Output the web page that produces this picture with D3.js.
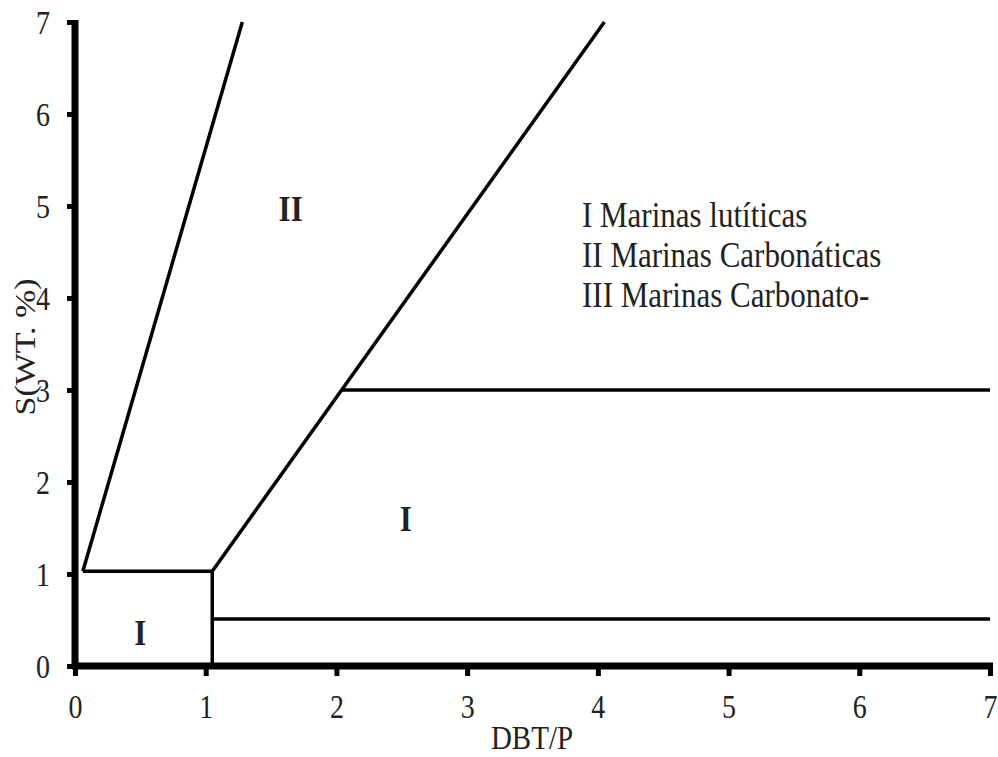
<!DOCTYPE html>
<html>
<head>
<meta charset="utf-8">
<script src="https://cdn.jsdelivr.net/npm/d3@7"></script>
<style>
	body { margin: 0; background: #fff; }
	svg text { font-family: "Liberation Serif", "Times New Roman", serif; fill: #222; }
</style>
</head>
<body>
<div id="chart"></div>
<script>
// tick values for both axes
var xTicks = [0, 1, 2, 3, 4, 5, 6, 7];
var yTicks = [0, 1, 2, 3, 4, 5, 6, 7];

// field boundaries, [DBT/P, S] pairs
var lineLeft = [[0.06, 1.03], [1.28, 7]];
var boxTop = [[0.06, 1.03], [1.05, 1.03]];
var boxSide = [[1.05, 0], [1.05, 1.03]];
var lineRight = [[1.05, 1.03], [4.05, 7]];
var limitUpper = [[2.04, 3.0], [7, 3.0]];
var limitLower = [[1.05, 0.51], [7, 0.51]];

// region labels
var regionNames = ["II", "I", "I"];
var regionX = [1.65, 2.53, 0.5];
var regionY = [4.97, 1.6, 0.36];

// legend text
var legendItems = ["I Marinas lutíticas", "II Marinas Carbonáticas", "III Marinas Carbonato-"];

var width = 998,
	height = 757;

// the original figure is a bit taller than wide in its lettering
var stretch = 1.17;

var svg = d3.select("#chart")
	.append("svg")
	.attr("width", width)
	.attr("height", height);

var x = d3.scaleLinear().domain([0, 7]).range([75, 990]);
var y = d3.scaleLinear().domain([0, 7]).range([666, 22]);

// x axis
var xAxis = svg.append("g")
	.attr("transform", "translate(0," + y(0) + ")")
	.call(d3.axisBottom(x).tickValues(xTicks).tickSize(10).tickSizeOuter(0).tickFormat(d3.format("d")));
xAxis.select(".domain").attr("stroke", "#000").attr("stroke-width", 7)
	.attr("d", "M" + (x(0) - 3) + ",0H" + (x(7) + 3));
xAxis.selectAll(".tick line").attr("stroke", "#000").attr("stroke-width", 5);
xAxis.selectAll(".tick text")
	.attr("x", null).attr("y", null).attr("dy", null)
	.attr("dominant-baseline", "central")
	.attr("transform", "translate(0,41) scale(1," + stretch + ")")
	.style("font-size", "28px");

// y axis
var yAxis = svg.append("g")
	.attr("transform", "translate(" + x(0) + ",0)")
	.call(d3.axisLeft(y).tickValues(yTicks).tickSize(8).tickSizeOuter(0).tickFormat(d3.format("d")));
yAxis.select(".domain").attr("stroke", "#000").attr("stroke-width", 7)
	.attr("d", "M0," + (y(7) - 2) + "V" + (y(0) + 3));
yAxis.selectAll(".tick line").attr("stroke", "#000").attr("stroke-width", 5);
yAxis.selectAll(".tick text")
	.attr("x", null).attr("y", null).attr("dy", null)
	.attr("dominant-baseline", "central")
	.attr("transform", "translate(-32,1) scale(1," + stretch + ")")
	.style("text-anchor", "middle")
	.style("font-size", "28px");

svg.selectAll(".tick text").attr("fill", "#222");

// axis titles
svg.append("text")
	.attr("transform", "translate(532,738) scale(1," + stretch + ")")
	.attr("text-anchor", "middle")
	.attr("dominant-baseline", "central")
	.style("font-size", "29px")
	.text("DBT/P");

svg.append("text")
	.attr("transform", "translate(25,347) rotate(-90) scale(" + stretch + ",1)")
	.attr("text-anchor", "middle")
	.attr("dominant-baseline", "central")
	.style("font-size", "29px")
	.text("S(WT. %)");

// boundaries
var line = d3.line()
	.x(function (d) { return x(d[0]); })
	.y(function (d) { return y(d[1]); });

var bounds = [lineLeft, boxTop, boxSide, lineRight, limitUpper, limitLower];
svg.selectAll("path.bound")
	.data(bounds)
	.enter()
	.append("path")
	.attr("class", "bound")
	.attr("d", line)
	.attr("fill", "none")
	.attr("stroke", "#000")
	.attr("stroke-width", 3.5)
	.attr("stroke-linejoin", "round");

// region labels
svg.selectAll("text.region")
	.data(regionNames)
	.enter()
	.append("text")
	.attr("class", "region")
	.attr("transform", function (d, i) {
		return "translate(" + x(regionX[i]) + "," + y(regionY[i]) + ") scale(1," + stretch + ")";
	})
	.attr("text-anchor", "middle")
	.attr("dominant-baseline", "central")
	.style("font-size", "31px")
	.style("font-weight", "bold")
	.text(function (d) { return d; });

// legend
svg.selectAll("text.legend")
	.data(legendItems)
	.enter()
	.append("text")
	.attr("class", "legend")
	.attr("transform", function (d, i) {
		return "translate(582," + (215 + i * 40) + ") scale(1," + stretch + ")";
	})
	.attr("dominant-baseline", "central")
	.style("font-size", "31px")
	.text(function (d) { return d; });
</script>
</body>
</html>
